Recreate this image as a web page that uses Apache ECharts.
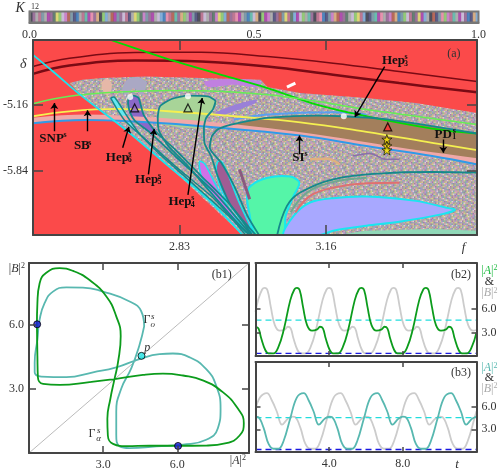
<!DOCTYPE html>
<html>
<head>
<meta charset="utf-8">
<title>K12 sweep</title>
<style>html,body{margin:0;background:#fff}#chart{width:503px;height:471px}</style>
<script src="https://cdn.jsdelivr.net/npm/echarts@6/dist/echarts.min.js"></script>
</head>
<body>
<div id="chart"></div>
<script>
// kneading strip, one letter per stripe
const kneading = 'oacdbchaemgpjlbkqcdnhrafogiclhbapdkcmgejbahcpiqrdlnafgchbkodpcaejmgiladrhcbqnpfoghjckalbmdeihpgcnaodrqkbjflhaecpgmdiokbnhrcajlfqbgpdeamhicolkbrgjdnchpaqkfi';
const kneadingColors = {a:'#8a5a8a',b:'#6a8a9a',c:'#a0a0a0',d:'#b06080',e:'#4a6a5a',f:'#d0a070',g:'#80c060',h:'#a030a0',i:'#70a0d0',j:'#c070c0',k:'#404070',l:'#a85040',m:'#d8d060',n:'#50b0a0',o:'#303040',p:'#c0b0d0',q:'#3070b0',r:'#e080a0'};

// panel (a): regions, (f, delta)
const chaosRegion = [[2.582,-4.942],[2.611,-4.908],[2.656,-4.891],[2.753,-4.874],[2.879,-4.891],[3.013,-4.908],[3.028,-4.983],[3.102,-5.044],[3.176,-5.068],[3.251,-5.095],[3.362,-5.146],[3.5,-5.248],[3.5,-6.5],[2.972,-6.5],[2.805,-5.793],[2.708,-5.418],[2.611,-5.078]];
const lobeGray = [[2.701,-5.01],[2.712,-4.908],[2.738,-4.881],[2.756,-4.942],[2.745,-5.061],[2.727,-4.993],[2.712,-5.061]];
const lobePink = [[2.656,-4.925],[2.667,-4.898],[2.677,-4.942],[2.675,-5.044],[2.664,-5.061],[2.655,-4.993]];
const streakTop = [[2.886,-4.925],[2.953,-4.901],[3.013,-4.925],[3.005,-4.983],[2.953,-4.959],[2.894,-4.983]];
const streakMid = [[2.909,-5.248],[2.968,-5.146],[3.005,-5.112],[2.998,-5.153],[2.953,-5.231],[2.916,-5.282]];
const brownRegion = [[2.903,-5.452],[2.916,-5.418],[2.938,-5.378],[2.983,-5.333],[3.028,-5.299],[3.139,-5.276],[3.199,-5.282],[3.288,-5.31],[3.399,-5.384],[3.5,-5.459],[3.5,-5.776],[3.399,-5.69],[3.251,-5.588],[3.102,-5.48],[2.991,-5.425],[2.916,-5.401]];
const hep6Fill = [[2.675,-5.095],[2.682,-5.085],[2.693,-5.146],[2.712,-5.282],[2.727,-5.401],[2.708,-5.333],[2.69,-5.214]];
const hep5Fill = [[2.714,-5.146],[2.716,-5.095],[2.727,-5.071],[2.738,-5.095],[2.749,-5.265],[2.775,-5.435],[2.76,-5.435],[2.73,-5.333],[2.719,-5.248]];
const hep4Fill = [[2.781,-5.299],[2.786,-5.18],[2.812,-5.105],[2.849,-5.071],[2.894,-5.078],[2.911,-5.129],[2.905,-5.214],[2.89,-5.299],[2.885,-5.401],[2.782,-5.357]];
const petalMagenta = [[2.875,-5.748],[2.886,-5.765],[2.909,-5.963],[2.938,-6.201],[2.979,-6.473],[2.945,-6.303],[2.901,-6.065],[2.879,-5.895]];
const petalPlum = [[2.916,-5.748],[2.925,-5.748],[2.938,-5.861],[2.961,-6.133],[2.994,-6.473],[2.961,-6.303],[2.927,-6.065],[2.913,-5.844]];
const islandGreen = [[2.982,-6.099],[2.99,-5.997],[3.028,-5.912],[3.08,-5.901],[3.1,-5.963],[3.087,-6.099],[3.069,-6.303],[3.063,-6.5],[3.002,-6.5],[2.987,-6.269]];
const islandLavender = [[3.065,-6.5],[3.087,-6.303],[3.124,-6.167],[3.176,-6.122],[3.251,-6.105],[3.362,-6.15],[3.429,-6.218],[3.45,-6.241],[3.422,-6.286],[3.325,-6.364],[3.251,-6.405],[3.176,-6.456],[3.147,-6.5]];
const cornerGreen = [[3.184,-6.5],[3.251,-6.456],[3.399,-6.439],[3.5,-6.456],[3.5,-6.5]];

// panel (a): curves
const redUpper = [[2.5,-4.772],[2.582,-4.687],[2.73,-4.629],[2.879,-4.626],[3.028,-4.67],[3.176,-4.738],[3.325,-4.823],[3.5,-4.925]];
const redLower = [[2.5,-4.847],[2.582,-4.762],[2.73,-4.711],[2.879,-4.721],[3.028,-4.772],[3.176,-4.857],[3.325,-4.942],[3.5,-5.037]];
const greenLine = [[2.675,-4.5],[2.753,-4.619],[2.827,-4.728],[2.924,-4.857],[3.028,-4.993],[3.139,-5.163],[3.251,-5.282],[3.399,-5.408],[3.5,-5.459]];
const snpLine = [[2.5,-5.153],[2.582,-5.078],[2.693,-5.034],[2.805,-5.017],[2.879,-5.02],[3.028,-5.061],[3.139,-5.129],[3.251,-5.214],[3.362,-5.282],[3.5,-5.367]];
const sbLine = [[2.5,-5.282],[2.582,-5.231],[2.693,-5.207],[2.805,-5.231],[2.953,-5.282],[3.102,-5.344],[3.251,-5.442],[3.399,-5.554],[3.5,-5.629]];
const pinkBand = [[2.5,-5.323],[2.619,-5.289],[2.73,-5.31],[2.879,-5.357],[3.028,-5.429],[3.176,-5.52],[3.325,-5.629],[3.5,-5.738]];
const blueLine = [[2.5,-5.354],[2.619,-5.32],[2.73,-5.337],[2.879,-5.384],[3.102,-5.48],[3.251,-5.588],[3.399,-5.69],[3.5,-5.776]];
const blueUpper = [[2.953,-5.316],[3.028,-5.265],[3.176,-5.241],[3.251,-5.265]];
const cyanEdge = [[2.5,-4.653],[2.545,-4.823],[2.611,-5.078],[2.708,-5.418],[2.805,-5.793],[2.894,-6.133],[2.972,-6.5]];
const hep6Left = [[2.675,-5.095],[2.69,-5.214],[2.708,-5.333],[2.745,-5.486],[2.82,-5.793],[2.909,-6.133],[2.979,-6.5]];
const hep6Right = [[2.675,-5.095],[2.682,-5.085],[2.693,-5.146],[2.712,-5.282],[2.738,-5.452],[2.782,-5.656],[2.849,-5.929],[2.924,-6.235],[2.987,-6.5]];
const hep5Curve = [[2.991,-6.5],[2.909,-6.065],[2.82,-5.69],[2.76,-5.435],[2.73,-5.333],[2.719,-5.248],[2.714,-5.146],[2.716,-5.095],[2.727,-5.071],[2.738,-5.095],[2.749,-5.265],[2.775,-5.435],[2.82,-5.622],[2.879,-5.895],[2.946,-6.201],[2.994,-6.5]];
const hep4Curve = [[2.987,-6.5],[2.953,-6.337],[2.894,-6.031],[2.849,-5.793],[2.805,-5.588],[2.784,-5.435],[2.781,-5.299],[2.786,-5.18],[2.812,-5.105],[2.849,-5.071],[2.894,-5.078],[2.911,-5.129],[2.905,-5.214],[2.89,-5.299],[2.885,-5.401],[2.886,-5.554],[2.901,-5.69],[2.916,-5.895],[2.946,-6.201],[3.002,-6.5]];
const hep3Curve = [[3.009,-6.5],[2.983,-6.303],[2.953,-5.997],[2.924,-5.759],[2.898,-5.605],[2.903,-5.486],[2.916,-5.418],[2.938,-5.378],[2.983,-5.333],[3.028,-5.299],[3.139,-5.276],[3.199,-5.282],[3.288,-5.31],[3.399,-5.384],[3.5,-5.459]];
const tealOuter = [[3.05,-6.5],[3.072,-6.201],[3.102,-6.065],[3.176,-5.929],[3.288,-5.867],[3.399,-5.854],[3.5,-5.861]];
const whiteStreak = [[3.072,-4.983],[3.091,-4.942]];
const swirlTan = [[3.124,-5.724],[3.161,-5.718],[3.191,-5.776]];
const swirlMauve = [[3.221,-5.69],[3.258,-5.663],[3.295,-5.724],[3.325,-5.724]];
const swirlRed = [[3.091,-6.269],[3.124,-6.099],[3.176,-6.014],[3.251,-5.969],[3.325,-5.963]];
const swirlSage = [[3.08,-6.269],[3.117,-6.065],[3.176,-5.956],[3.251,-5.912]];
const swirlPlum = [[2.965,-5.827],[2.988,-6.133]];

const whiteDots = [[2.719,-5.085],[2.849,-5.078],[3.2,-5.282]];
const triangles = [[2.729,-5.197,'#8a68c8'],[2.849,-5.197,'#a8d498'],[3.299,-5.391,'#ff3030']];
const stars = [[3.297,-5.52],[3.297,-5.588],[3.297,-5.629]];
const arrows = [
  [[2.548,-5.435],[2.548,-5.146]],
  [[2.623,-5.435],[2.623,-5.221]],
  [[2.702,-5.605],[2.716,-5.391]],
  [[2.76,-5.878],[2.773,-5.412]],
  [[2.849,-6.088],[2.881,-5.095]],
  [[3.292,-4.772],[3.225,-5.289]],
  [[3.1,-5.673],[3.1,-5.48]],
  [[3.424,-5.52],[3.424,-5.656]]
];

// panel (b1): |A|^2, |B|^2
const gammaAlpha = [[0.32,6.03],[0.34,7.02],[0.43,7.95],[0.7,8.44],[1.24,8.66],[1.78,8.53],[2.45,8.1],[3.13,7.33],[3.53,6.4],[3.71,5.48],[3.6,4.24],[3.46,3.47],[3.29,2.53],[3.17,1.6],[3.19,0.82],[3.4,0.43],[3.94,0.32],[4.88,0.34],[6.02,0.34],[7.17,0.35],[7.98,0.46],[8.52,0.82],[8.69,1.39],[8.45,2.08],[7.84,2.85],[7.03,3.4],[6.23,3.63],[5.42,3.72],[4.61,3.66],[3.53,3.47],[2.45,3.32],[1.24,3.19],[0.57,3.24],[0.36,3.55],[0.34,4.55],[0.32,6.03]];
const gammaOmicron = [[4.66,5.94],[4.54,6.64],[4.07,7.1],[2.99,7.56],[2.18,7.75],[1.51,7.76],[0.97,7.56],[0.63,7.02],[0.43,6.25],[0.34,5.32],[0.23,4.24],[0.23,3.78],[0.5,3.58],[1.51,3.55],[2.59,3.78],[3.53,4.01],[4.47,4.4],[5.28,4.63],[5.82,4.66],[6.5,4.48],[7.17,3.93],[7.57,3.16],[7.75,2.08],[7.64,1.16],[7.17,0.62],[6.23,0.39],[5.15,0.31],[4.07,0.23],[3.67,0.31],[3.53,0.85],[3.53,1.93],[3.73,3.01],[4.14,3.98],[4.47,5.06],[4.66,5.94]];
const diagonal = [[0,0],[8.9,8.9]];
const pointP = [[4.55,4.55]];
const pointsBlue = [[0.33,6.03],[6.03,0.33]];

// panels (b2), (b3): t, value
const levelCyan = 4.55;
const levelBlue = 0.33;
const b2Green = [[0,3.71],[.16,3.5],[.31,2.24],[.53,.76],[.71,.34],[.98,.34],[1.25,1.18],[1.53,3.29],[1.89,7.09],[2.11,8.44],[2.25,8.65],[2.4,8.35],[2.58,6.24],[2.8,3.92],[3.07,3.21],[3.35,3.38],
  [3.5,3.71],[3.66,3.5],[3.81,2.24],[4.03,.76],[4.21,.34],[4.48,.34],[4.75,1.18],[5.03,3.29],[5.39,7.09],[5.61,8.44],[5.75,8.65],[5.9,8.35],[6.08,6.24],[6.3,3.92],[6.57,3.21],[6.85,3.38],
  [7,3.71],[7.16,3.5],[7.31,2.24],[7.53,.76],[7.71,.34],[7.98,.34],[8.25,1.18],[8.53,3.29],[8.89,7.09],[9.11,8.44],[9.25,8.65],[9.4,8.35],[9.58,6.24],[9.8,3.92],[10.07,3.21],[10.35,3.38],
  [10.5,3.71],[10.66,3.5],[10.81,2.24],[11.03,.76],[11.21,.34],[11.48,.34],[11.75,1.18],[12,3.0]];
const b2Gray = [[0,5.6],[.14,7.09],[.36,8.44],[.5,8.65],[.65,8.35],[.83,6.24],[1.05,3.92],[1.32,3.21],[1.6,3.38],[1.75,3.71],[1.91,3.5],[2.06,2.24],[2.28,.76],[2.46,.34],[2.73,.34],[3,1.18],[3.28,3.29],
  [3.64,7.09],[3.86,8.44],[4,8.65],[4.15,8.35],[4.33,6.24],[4.55,3.92],[4.82,3.21],[5.1,3.38],[5.25,3.71],[5.41,3.5],[5.56,2.24],[5.78,.76],[5.96,.34],[6.23,.34],[6.5,1.18],[6.78,3.29],
  [7.14,7.09],[7.36,8.44],[7.5,8.65],[7.65,8.35],[7.83,6.24],[8.05,3.92],[8.32,3.21],[8.6,3.38],[8.75,3.71],[8.91,3.5],[9.06,2.24],[9.28,.76],[9.46,.34],[9.73,.34],[10,1.18],[10.28,3.29],
  [10.64,7.09],[10.86,8.44],[11,8.65],[11.15,8.35],[11.33,6.24],[11.55,3.92],[11.82,3.21],[12,3.3]];
const b3Teal = [[0,4.68],[.16,4.6],[.44,3.19],[.71,1.06],[.98,.43],[1.25,.43],[1.53,1.49],[1.89,4.47],[2.25,7.23],[2.62,7.79],[2.89,6.81],[3.16,5.32],[3.44,3.62],[3.75,4.38],
  [4,4.68],[4.16,4.6],[4.44,3.19],[4.71,1.06],[4.98,.43],[5.25,.43],[5.53,1.49],[5.89,4.47],[6.25,7.23],[6.62,7.79],[6.89,6.81],[7.16,5.32],[7.44,3.62],[7.75,4.38],
  [8,4.68],[8.16,4.6],[8.44,3.19],[8.71,1.06],[8.98,.43],[9.25,.43],[9.53,1.49],[9.89,4.47],[10.25,7.23],[10.62,7.79],[10.89,6.81],[11.16,5.32],[11.44,3.62],[11.75,4.38],[12,4.68]];
const b3Gray = [[0,5.6],[.25,7.23],[.62,7.79],[.89,6.81],[1.16,5.32],[1.44,3.62],[1.75,4.38],[2,4.68],[2.16,4.6],[2.44,3.19],[2.71,1.06],[2.98,.43],[3.25,.43],[3.53,1.49],[3.89,4.47],
  [4.25,7.23],[4.62,7.79],[4.89,6.81],[5.16,5.32],[5.44,3.62],[5.75,4.38],[6,4.68],[6.16,4.6],[6.44,3.19],[6.71,1.06],[6.98,.43],[7.25,.43],[7.53,1.49],[7.89,4.47],
  [8.25,7.23],[8.62,7.79],[8.89,6.81],[9.16,5.32],[9.44,3.62],[9.75,4.38],[10,4.68],[10.16,4.6],[10.44,3.19],[10.71,1.06],[10.98,.43],[11.25,.43],[11.53,1.49],[11.89,4.47],[12,5.4]];

// text: x, y, string, style
const textsStrip = [[-0.021,1.3,'{i|K}','large'],[0.012,1.45,'12','small']];
const textsA = [
  [2.478,-4.745,'{i|δ}','large'],
  [2.542,-5.514,'SNP','bold'],[2.572,-5.476,'s','tiny'],
  [2.61,-5.588,'SB','bold'],[2.628,-5.554,'s','tiny'],
  [2.69,-5.707,'Hep','bold'],[2.718,-5.673,'s','tiny'],[2.718,-5.735,'6','tiny'],
  [2.756,-5.929,'Hep','bold'],[2.785,-5.895,'s','tiny'],[2.785,-5.956,'5','tiny'],
  [2.831,-6.156,'Hep','bold'],[2.86,-6.122,'s','tiny'],[2.86,-6.19,'4','tiny'],
  [3.312,-4.711,'Hep','bold'],[3.34,-4.677,'s','tiny'],[3.34,-4.748,'3','tiny'],
  [3.098,-5.707,'SI','bold'],[3.115,-5.673,'s','tiny'],
  [3.424,-5.469,'PD','bold'],[3.449,-5.435,'s','tiny'],[3.449,-5.497,'1','tiny'],
  [3.448,-4.643,'(a)','axis']
];
const textsB1 = [
  [4.77,6.25,'Γ','axis'],[5.01,6.4,'s','smallI'],[5.01,6.02,'o','smallI'],
  [2.55,0.9,'Γ','axis'],[2.82,1.05,'s','smallI'],[2.82,0.69,'α','smallI'],
  [4.78,4.94,'{i|p}','axis'],[7.8,8.33,'(b1)','axis'],
  [-0.49,8.64,'|{i|B}|{s|2}','axis'],[8.45,-0.35,'|{i|A}|{s|2}','axis']
];
const textsB2 = [[11.16,10.34,'(b2)','axis'],[12.7,10.85,'|{i|A}|{s|2}','green'],[12.7,9.4,'&','axis'],[12.7,7.96,'|{i|B}|{s|2}','gray']];
const textsB3 = [[11.16,10.43,'(b3)','axis'],[12.7,11.07,'|{i|A}|{s|2}','teal'],[12.7,9.8,'&','axis'],[12.7,8.4,'|{i|B}|{s|2}','gray']];

const SERIF = '"Liberation Serif", serif';
const INK = '#333';
const FRAME = '#454545';
const textStyles = {
  axis: {size: 12, color: INK}, large: {size: 14, color: INK}, small: {size: 8, color: INK}, tiny: {size: 8, color: '#111', weight: 'bold'},
  smallI: {size: 9, color: INK, italic: true}, bold: {size: 13, color: '#111', weight: 'bold'},
  green: {size: 12, color: '#22bb44'}, teal: {size: 12, color: '#58b8b0'}, gray: {size: 12, color: '#aaa'}
};

// texture for the chaotic region, just a hand typed colour tile
const tileColors = {a:'#e0a0c0',b:'#b090e0',c:'#d8b080',d:'#e0e080',e:'#90c890',f:'#70b0b0',g:'#a0a0a0',h:'#a070a0',i:'#ece4e4'};
const tileRows = ['agcbfhediagbfced','hdagiebacfahgdib','bfeciahgdbecfgah','cgaihdbfegaidhcb','dhfbgeaicfhbeagd','eacdhbgfaidgbfch','ifgaecdbhgcaeibf','gbhdfiacebfhdagc','afcgbdehgaicbfde','hdieagfbcdhegaib','begchafdibgcafhe','fgadibhecafbidgc','cahefgbdaegihcbf','dibgacehfbdagehc','gefahdcibgfhacdb','acbigfhdeacbgifa'];
const tile = document.createElement('canvas');
tile.width = tile.height = 24;
const tctx = tile.getContext('2d');
tctx.fillStyle = '#b0a6ac';
tctx.fillRect(0, 0, 24, 24);
tctx.globalAlpha = 0.7;
tileRows.forEach((row, r) => {
  for (let c = 0; c < row.length; c++) {
    tctx.fillStyle = tileColors[row[c]];
    tctx.fillRect(c * 1.5, r * 1.5, 1.5, 1.5);
  }
});

const PANEL = {strip: 0, a: 1, b1: 3, b2: 5, b3: 7};
const at = panel => ({xAxisIndex: PANEL[panel], yAxisIndex: PANEL[panel]});

function line(panel, data, color, width, extra) {
  return Object.assign({type: 'line', data, showSymbol: false, smooth: 0.4, silent: true, lineStyle: {color, width}, z: 5}, at(panel), extra || {});
}

function region(data, fill, extra) {
  const opt = extra || {};
  return Object.assign({
    type: 'custom', data, silent: true, clip: true, z: opt.z || 3,
    renderItem(params, api) {
      if (params.dataIndex !== 0) return;
      return {
        type: 'polygon',
        shape: {points: data.map(p => api.coord(p)), smooth: opt.smooth === undefined ? 0.3 : opt.smooth},
        style: {fill, stroke: opt.stroke || null, lineWidth: opt.lineWidth || 0, opacity: opt.opacity === undefined ? 1 : opt.opacity}
      };
    }
  }, at('a'));
}

function labels(panel, list) {
  return Object.assign({
    type: 'custom', silent: true, z: 20, clip: false,
    data: list.map(t => [t[0], t[1]]),
    renderItem(params, api) {
      const t = list[params.dataIndex];
      const s = textStyles[t[3]];
      const pos = api.coord([t[0], t[1]]);
      return {
        type: 'text', x: pos[0], y: pos[1],
        style: {
          text: t[2], fill: s.color, align: 'center', verticalAlign: 'middle',
          font: (s.italic ? 'italic ' : '') + (s.weight || 'normal') + ' ' + s.size + 'px ' + SERIF,
          rich: {
            i: {fontStyle: 'italic', fontFamily: SERIF, fontSize: s.size, fill: s.color},
            s: {fontSize: 8, fontFamily: SERIF, fill: s.color, verticalAlign: 'top', padding: [0, 0, 5, 0]}
          }
        }
      };
    }
  }, at(panel));
}

function axis(kind, gridIndex, position, min, max, tickLength, ticks, labelValues, fmt) {
  return {
    type: 'value', gridIndex, position, min, max, z: 10, silent: true,
    splitLine: {show: false},
    axisLine: {show: true, onZero: false, lineStyle: {color: FRAME, width: 2}},
    axisTick: {show: ticks.length > 0, inside: true, length: tickLength, customValues: ticks, lineStyle: {color: FRAME, width: 1.5}},
    axisLabel: labelValues ? {show: true, customValues: labelValues, formatter: fmt, color: INK, fontFamily: SERIF, fontSize: 12, margin: kind === 'x' ? 6 : 5, showMinLabel: true, showMaxLabel: true} : {show: false}
  };
}

const fix1 = v => v.toFixed(1);
const fix2 = v => v.toFixed(2);

const grids = [
  {left: 29.5, top: 11.5, width: 449, height: 11},
  {left: 30, top: 40, width: 447, height: 195},
  {left: 29, top: 263, width: 220, height: 192},
  {left: 255.5, top: 263, width: 221, height: 93},
  {left: 255.5, top: 362, width: 221, height: 94}
];

const xAxes = [
  axis('x', 0, 'bottom', 0, 1, 0, [], [0, 0.5, 1], fix1),
  axis('x', 1, 'bottom', 2.5, 3.5, 10, [2.83, 3.16], [2.83, 3.16, 3.47], v => v > 3.4 ? '{i|f}' : fix2(v)),
  axis('x', 1, 'top', 2.5, 3.5, 10, [2.83, 3.16]),
  axis('x', 2, 'bottom', 0, 8.9, 7, [3, 6], [3, 6, 8.45], v => v > 7 ? '' : fix1(v)),
  axis('x', 2, 'top', 0, 8.9, 7, [3, 6]),
  axis('x', 3, 'bottom', 0, 12, 5, [4, 8]),
  axis('x', 3, 'top', 0, 12, 5, [4, 8]),
  axis('x', 4, 'bottom', 0, 12, 5, [4, 8], [4, 8, 10.95], v => v > 9 ? '{i|t}' : fix1(v)),
  axis('x', 4, 'top', 0, 12, 5, [4, 8])
];
xAxes[1].axisLabel.rich = xAxes[7].axisLabel.rich = {i: {fontStyle: 'italic', fontFamily: SERIF, fontSize: 13, color: INK}};
xAxes[0].axisLine.lineStyle.color = '#777';

const yAxes = [
  axis('y', 0, 'left', 0, 1, 0, []),
  axis('y', 1, 'left', -6.5, -4.5, 10, [-5.84, -5.16], [-5.84, -5.16], fix2),
  axis('y', 1, 'right', -6.5, -4.5, 10, [-5.84, -5.16]),
  axis('y', 2, 'left', 0, 8.9, 7, [3, 6], [3, 6], fix1),
  axis('y', 2, 'right', 0, 8.9, 7, [3, 6]),
  axis('y', 3, 'left', 0, 11.8, 5, [3, 6]),
  axis('y', 3, 'right', 0, 11.8, 5, [3, 6], [3, 6], fix1),
  axis('y', 4, 'left', 0, 11.9, 5, [3, 6]),
  axis('y', 4, 'right', 0, 11.9, 5, [3, 6], [3, 6], fix1)
];
yAxes[0].axisLine.lineStyle.color = '#777';

const TEAL = '#15898c';
const CYAN = '#19e6f0';
const stripes = kneading.split('');

const series = [
  // K12 strip
  Object.assign({
    type: 'custom', silent: true, clip: true, z: 3,
    data: stripes.map((c, i) => [i / stripes.length, (i + 1) / stripes.length]),
    renderItem(params, api) {
      const a = api.coord([api.value(0), 0]);
      const b = api.coord([api.value(1), 1]);
      return {type: 'rect', shape: {x: a[0], y: b[1], width: b[0] - a[0] + 0.5, height: a[1] - b[1]}, style: {fill: kneadingColors[stripes[params.dataIndex]], opacity: 0.85}};
    }
  }, at('strip')),
  Object.assign({
    type: 'custom', silent: true, z: 4, data: [[0, 0]],
    renderItem(params, api) {
      const a = api.coord([0, 0]);
      const b = api.coord([1, 1]);
      return {type: 'rect', shape: {x: a[0], y: b[1], width: b[0] - a[0], height: a[1] - b[1]}, style: {fill: null, stroke: '#777', lineWidth: 2}};
    }
  }, at('strip')),
  labels('strip', textsStrip),

  // (a) regions
  region(chaosRegion, {image: tile, repeat: 'repeat'}, {smooth: 0, z: 2}),
  region(lobeGray, '#aaa8c4'),
  region(lobePink, '#e6b8a8'),
  region(streakTop, '#c080e0'),
  region(streakMid, '#9a80d8'),
  region(brownRegion, '#a37f5c', {smooth: 0}),
  region(hep6Fill, '#66e8f0'),
  region(hep5Fill, '#8a68c8'),
  region(hep4Fill, '#a8d498'),
  region(petalMagenta, '#d070e8', {stroke: CYAN, lineWidth: 1.5}),
  region(petalPlum, '#a05c94', {stroke: CYAN, lineWidth: 1.5}),
  region(islandGreen, '#55f5a8', {stroke: CYAN, lineWidth: 2}),
  region(islandLavender, '#a8a8ff', {stroke: CYAN, lineWidth: 2}),
  region(cornerGreen, '#90d8b8', {smooth: 0}),

  // (a) curves
  line('a', swirlTan, '#e0b080', 2.5, {z: 3}),
  line('a', swirlMauve, '#8a70a8', 1.5, {z: 3}),
  line('a', swirlRed, '#e07070', 2, {z: 3}),
  line('a', swirlSage, '#70a890', 2, {z: 3}),
  line('a', swirlPlum, '#8a5a80', 3, {z: 3}),
  line('a', pinkBand, '#f0a8a8', 5),
  line('a', blueLine, '#2f9be8', 2),
  line('a', blueUpper, '#5aa0f0', 2),
  line('a', redUpper, '#7a0a14', 1.5),
  line('a', redLower, '#7a0a14', 2.5),
  line('a', greenLine, '#00dd00', 1.8),
  line('a', snpLine, '#66ee55', 1.5),
  line('a', sbLine, '#f5f050', 1.8),
  line('a', cyanEdge, CYAN, 1.8),
  line('a', hep6Left, TEAL, 1.5, {smooth: 0.2}),
  line('a', hep6Right, TEAL, 1.5, {smooth: 0.2}),
  line('a', hep5Curve, TEAL, 1.8, {smooth: 0.2}),
  line('a', hep4Curve, TEAL, 1.8, {smooth: 0.2}),
  line('a', hep3Curve, TEAL, 1.8, {smooth: 0.2}),
  line('a', tealOuter, TEAL, 1.8),
  line('a', whiteStreak, '#fff', 3),

  // (a) markers
  Object.assign({type: 'scatter', data: whiteDots, symbol: 'circle', symbolSize: 6, itemStyle: {color: '#fff'}, silent: true, z: 8}, at('a')),
  Object.assign({type: 'scatter', data: triangles.map(t => ({value: [t[0], t[1]], itemStyle: {color: t[2]}})), symbol: 'triangle', symbolSize: 8, itemStyle: {borderColor: '#000', borderWidth: 1.2}, silent: true, z: 8}, at('a')),
  Object.assign({type: 'scatter', data: stars, symbol: 'path://M50 0L62 36 100 36 69 58 81 95 50 72 19 95 31 58 0 36 38 36Z', symbolSize: 10, itemStyle: {color: '#ffe800', borderColor: '#000', borderWidth: 0.8}, silent: true, z: 8}, at('a')),
  Object.assign({
    type: 'lines', coordinateSystem: 'cartesian2d', silent: true, z: 15,
    symbol: ['none', 'arrow'], symbolSize: 6,
    lineStyle: {color: '#000', width: 1.4, opacity: 1},
    data: arrows.map(a => ({coords: a}))
  }, at('a')),
  labels('a', textsA),

  // (b1)
  line('b1', diagonal, '#bbb', 1, {smooth: false}),
  line('b1', gammaOmicron, '#58b8b0', 1.8, {smooth: 0.5}),
  line('b1', gammaAlpha, '#0c9c1c', 1.8, {smooth: 0.5}),
  Object.assign({type: 'scatter', data: pointP, symbolSize: 7, itemStyle: {color: '#22e6e6', borderColor: '#000', borderWidth: 1}, silent: true, z: 8}, at('b1')),
  Object.assign({type: 'scatter', data: pointsBlue, symbolSize: 7, itemStyle: {color: '#1a1ae0', borderColor: '#000', borderWidth: 1}, silent: true, z: 8}, at('b1')),
  labels('b1', textsB1),

  // (b2)
  line('b2', b2Gray, '#cccccc', 1.8),
  line('b2', [[0, levelCyan], [12, levelCyan]], '#22dddd', 1.3, {smooth: false, lineStyle: {color: '#22dddd', width: 1.3, type: [6, 4]}}),
  line('b2', [[0, levelBlue], [12, levelBlue]], '#1a1ae0', 1.3, {smooth: false, lineStyle: {color: '#1a1ae0', width: 1.3, type: [6, 4]}}),
  line('b2', b2Green, '#0c9c1c', 1.8),
  labels('b2', textsB2),

  // (b3)
  line('b3', b3Gray, '#cccccc', 1.8),
  line('b3', [[0, levelCyan], [12, levelCyan]], '#22dddd', 1.3, {smooth: false, lineStyle: {color: '#22dddd', width: 1.3, type: [6, 4]}}),
  line('b3', [[0, levelBlue], [12, levelBlue]], '#1a1ae0', 1.3, {smooth: false, lineStyle: {color: '#1a1ae0', width: 1.3, type: [6, 4]}}),
  line('b3', b3Teal, '#58b8b0', 1.8),
  labels('b3', textsB3)
];

grids[1].show = true;
grids[1].backgroundColor = '#fb4a4a';
grids[1].borderWidth = 0;

const chart = echarts.init(document.getElementById('chart'), null, {renderer: 'canvas'});
chart.setOption({animation: false, grid: grids, xAxis: xAxes, yAxis: yAxes, series});
</script>
</body>
</html>
